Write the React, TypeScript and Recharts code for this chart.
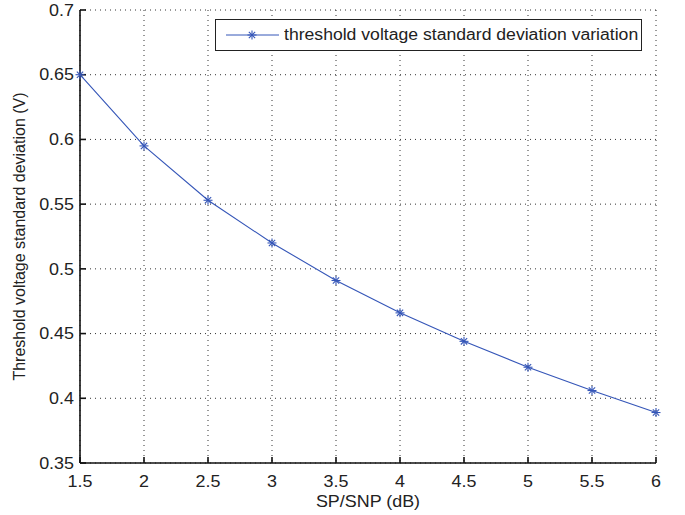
import { CartesianGrid, Line, LineChart, XAxis, YAxis } from "recharts";

const snr = [1.5, 2, 2.5, 3, 3.5, 4, 4.5, 5, 5.5, 6];
const sigma = [0.65, 0.595, 0.553, 0.52, 0.491, 0.466, 0.444, 0.424, 0.406, 0.389];
const xTicks = [1.5, 2, 2.5, 3, 3.5, 4, 4.5, 5, 5.5, 6];
const yTicks = [0.35, 0.4, 0.45, 0.5, 0.55, 0.6, 0.65, 0.7];

const LINE_COLOR = "#3556b8";
const FONT = "'Liberation Sans', Arial, sans-serif";
const TEXT = "#222";
const FS = 16;
// the reference figure is a little wider than tall, text looks stretched
const SX = 1.12;

const data = snr.map((x, i) => ({ x, y: sigma[i] }));

const fmt = (v: number) => String(+v.toFixed(2));

function Star({ cx, cy, color = LINE_COLOR }: { cx?: number; cy?: number; color?: string }) {
  if (cx == null || cy == null) return null;
  const r = 4.5;
  const d = r * 0.7;
  return (
    <g stroke={color} strokeWidth={1.1}>
      <line x1={cx - r} y1={cy} x2={cx + r} y2={cy} />
      <line x1={cx} y1={cy - r} x2={cx} y2={cy + r} />
      <line x1={cx - d} y1={cy - d} x2={cx + d} y2={cy + d} />
      <line x1={cx - d} y1={cy + d} x2={cx + d} y2={cy - d} />
    </g>
  );
}

function XTick({ x, y, payload }: any) {
  return (
    <text
      transform={`translate(${x} ${y}) scale(${SX} 1)`}
      dy={20}
      textAnchor="middle"
      fill={TEXT}
      fontSize={FS}
      fontFamily={FONT}
    >
      {fmt(payload.value)}
    </text>
  );
}

function YTick({ x, y, payload }: any) {
  return (
    <text
      transform={`translate(${x} ${y}) scale(${SX} 1)`}
      dy={5.7}
      textAnchor="end"
      fill={TEXT}
      fontSize={FS}
      fontFamily={FONT}
    >
      {fmt(payload.value)}
    </text>
  );
}

function LegendBox() {
  return (
    <div
      style={{
        position: "absolute",
        left: 215,
        top: 19,
        border: "1px solid #222",
        background: "#fff",
        width: 427,
        height: 32,
        boxSizing: "border-box",
        display: "flex",
        alignItems: "center",
        fontFamily: FONT,
        fontSize: FS,
        color: TEXT,
        whiteSpace: "nowrap",
      }}
    >
      <svg width={68} height={20} style={{ flex: "none" }}>
        <line x1={10} y1={10} x2={63} y2={10} stroke={LINE_COLOR} strokeWidth={1} />
        <Star cx={36} cy={10} />
      </svg>
      <span style={{ display: "inline-block", transform: "scaleX(1.1)", transformOrigin: "left center" }}>
        threshold voltage standard deviation variation
      </span>
    </div>
  );
}

export default function App() {
  return (
    <div style={{ position: "absolute", left: 0, top: 0, width: 685, height: 515, background: "#fff" }}>
      <LineChart
        width={685}
        height={515}
        data={data}
        margin={{ top: 10, right: 29, bottom: 0, left: 0 }}
      >
        <CartesianGrid stroke="#333" strokeDasharray="1 4" strokeWidth={1} />
        <XAxis
          dataKey="x"
          type="number"
          domain={[1.5, 6]}
          ticks={xTicks}
          interval={0}
          height={52}
          stroke="#111"
          strokeWidth={1.6}
          tickSize={-6}
          tickMargin={10}
          tick={<XTick />}
          label={{
            content: ({ viewBox }: any) => {
              const cx = viewBox.x + viewBox.width / 2;
              const cy = viewBox.y + 44;
              return (
                <text
                  transform={`translate(${cx} ${cy}) scale(${SX} 1)`}
                  textAnchor="middle"
                  fill={TEXT}
                  fontSize={FS}
                  fontFamily={FONT}
                >
                  SP/SNP (dB)
                </text>
              );
            },
          }}
        />
        <YAxis
          type="number"
          domain={[0.35, 0.7]}
          ticks={yTicks}
          interval={0}
          width={80}
          stroke="#111"
          strokeWidth={1.6}
          tickSize={-6}
          tickMargin={12}
          tick={<YTick />}
          label={{
            content: ({ viewBox }: any) => {
              const cx = 25;
              const cy = viewBox.y + viewBox.height / 2;
              return (
                <text
                  x={cx}
                  y={cy}
                  transform={`rotate(-90 ${cx} ${cy})`}
                  textAnchor="middle"
                  fill={TEXT}
                  fontSize={FS}
                  fontFamily={FONT}
                >
                  Threshold voltage standard deviation (V)
                </text>
              );
            },
          }}
        />
        <XAxis xAxisId="top" orientation="top" dataKey="x" type="number" domain={[1.5, 6]} ticks={xTicks} height={0} stroke="#111" strokeWidth={1.6} tickSize={-6} tick={false} />
        <YAxis yAxisId="right" orientation="right" type="number" domain={[0.35, 0.7]} ticks={yTicks} width={0} stroke="#111" strokeWidth={1.6} tickSize={-6} tick={false} />
        <Line
          dataKey="y"
          stroke={LINE_COLOR}
          strokeWidth={1.1}
          dot={(p: any) => <Star key={p.index} cx={p.cx} cy={p.cy} />}
          activeDot={false}
          isAnimationActive={false}
          type="linear"
        />
      </LineChart>
      <LegendBox />
    </div>
  );
}
